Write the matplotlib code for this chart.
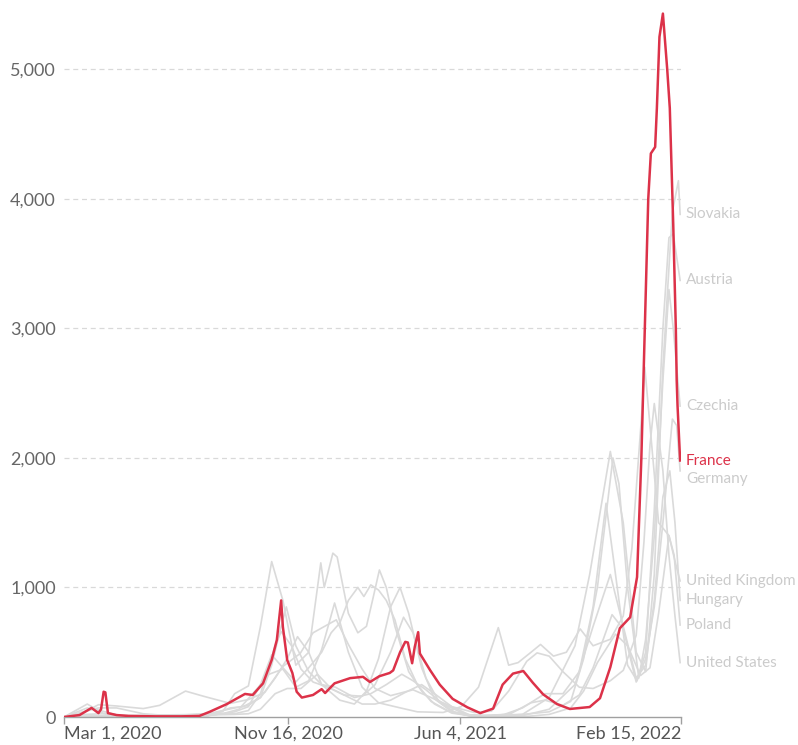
import matplotlib
matplotlib.use("Agg")
import matplotlib.pyplot as plt
import pandas as pd

# -----------------------------------------------------------------------------
# Data: daily new cases per million (7-day avg)
# -----------------------------------------------------------------------------

FRANCE_DATES = [
    "2020-03-01", "2020-03-19", "2020-04-02", "2020-04-10", "2020-04-13", "2020-04-16",
    "2020-04-18", "2020-04-21", "2020-05-01", "2020-05-15", "2020-06-15", "2020-07-15",
    "2020-08-05", "2020-08-17", "2020-09-06", "2020-09-27", "2020-10-06", "2020-10-18",
    "2020-10-28", "2020-11-03", "2020-11-08", "2020-11-10", "2020-11-15", "2020-11-21",
    "2020-11-26", "2020-12-02", "2020-12-15", "2020-12-25", "2020-12-29", "2021-01-09",
    "2021-01-27", "2021-02-11", "2021-02-19", "2021-03-02", "2021-03-14", "2021-03-18",
    "2021-03-26", "2021-04-01", "2021-04-04", "2021-04-09", "2021-04-12", "2021-04-16",
    "2021-04-18", "2021-04-30", "2021-05-11", "2021-05-26", "2021-06-12", "2021-06-27",
    "2021-07-12", "2021-07-23", "2021-08-04", "2021-08-16", "2021-08-27", "2021-09-08",
    "2021-09-24", "2021-10-09", "2021-11-01", "2021-11-13", "2021-11-25", "2021-12-06",
    "2021-12-18", "2021-12-26", "2021-12-31", "2022-01-04", "2022-01-08", "2022-01-11",
    "2022-01-16", "2022-01-18", "2022-01-21", "2022-01-25", "2022-01-30", "2022-02-02",
    "2022-02-06", "2022-02-09", "2022-02-10", "2022-02-11", "2022-02-14",
]
FRANCE_VALUES = [
    0, 15, 70, 30, 60, 195,
    190, 30, 15, 8, 5, 5,
    8, 40, 100, 178, 170, 260,
    440, 595, 900, 695, 440, 340,
    195, 150, 170, 215, 185, 260,
    300, 310, 270, 315, 340, 360,
    500, 580, 575, 415, 540, 655,
    490, 360, 250, 140, 75, 30,
    65, 250, 335, 355, 265, 175,
    100, 62, 77, 145, 385, 685,
    770, 1080, 2000, 3000, 4000, 4350,
    4400, 4700, 5250, 5430, 5000, 4700,
    3800, 3000, 2600, 2400, 1980,
]

SLOVAKIA_DATES = [
    "2020-03-01", "2020-04-01", "2020-07-01", "2020-08-15", "2020-09-15", "2020-10-01",
    "2020-10-15", "2020-10-28", "2020-11-10", "2020-11-25", "2020-12-10", "2020-12-25",
    "2021-01-05", "2021-01-15", "2021-01-25", "2021-02-05", "2021-02-12", "2021-02-20",
    "2021-03-01", "2021-03-10", "2021-03-20", "2021-04-01", "2021-04-15", "2021-05-01",
    "2021-05-20", "2021-06-15", "2021-07-15", "2021-08-15", "2021-09-15", "2021-10-15",
    "2021-11-01", "2021-11-25", "2021-12-10", "2021-12-25", "2022-01-05", "2022-01-15",
    "2022-01-25", "2022-02-05", "2022-02-12", "2022-02-14",
]
SLOVAKIA_VALUES = [
    0, 5, 3, 10, 40, 80,
    250, 480, 380, 270, 380, 500,
    650, 725, 900, 1000, 930, 1020,
    980, 900, 750, 450, 250, 120,
    50, 15, 5, 20, 150, 550,
    1100, 2050, 1500, 500, 350, 1100,
    2700, 3900, 4140, 3880,
]

AUSTRIA_DATES = [
    "2020-03-01", "2020-03-28", "2020-04-15", "2020-05-15", "2020-06-15", "2020-07-15",
    "2020-08-15", "2020-09-15", "2020-10-01", "2020-10-15", "2020-10-28", "2020-11-08",
    "2020-11-14", "2020-11-25", "2020-12-10", "2020-12-25", "2021-01-10", "2021-02-01",
    "2021-02-20", "2021-03-10", "2021-03-28", "2021-04-10", "2021-04-25", "2021-05-15",
    "2021-06-10", "2021-07-01", "2021-07-25", "2021-08-15", "2021-09-10", "2021-10-01",
    "2021-10-20", "2021-11-05", "2021-11-20", "2021-12-01", "2021-12-15", "2021-12-26",
    "2022-01-05", "2022-01-15", "2022-01-25", "2022-02-01", "2022-02-06", "2022-02-10",
    "2022-02-14",
]
AUSTRIA_VALUES = [
    0, 100, 30, 5, 5, 12,
    25, 70, 90, 150, 400, 700,
    850, 550, 350, 250, 230, 150,
    180, 250, 330, 280, 210, 100,
    20, 10, 20, 70, 180, 180,
    350, 850, 1650, 1100, 400, 280,
    500, 1600, 3000, 3700, 3730, 3550,
    3370,
]

CZECHIA_DATES = [
    "2020-03-01", "2020-03-25", "2020-04-15", "2020-05-15", "2020-06-15", "2020-07-15",
    "2020-08-15", "2020-09-01", "2020-09-15", "2020-10-01", "2020-10-15", "2020-10-28",
    "2020-11-10", "2020-11-25", "2020-12-10", "2020-12-24", "2020-12-28", "2021-01-07",
    "2021-01-12", "2021-01-25", "2021-02-05", "2021-02-15", "2021-02-22", "2021-03-02",
    "2021-03-10", "2021-03-20", "2021-04-05", "2021-04-20", "2021-05-05", "2021-05-25",
    "2021-06-15", "2021-07-15", "2021-08-15", "2021-09-15", "2021-10-10", "2021-10-25",
    "2021-11-10", "2021-11-28", "2021-12-05", "2021-12-15", "2021-12-28", "2022-01-05",
    "2022-01-15", "2022-01-25", "2022-02-01", "2022-02-06", "2022-02-10", "2022-02-14",
]
CZECHIA_VALUES = [
    0, 20, 25, 5, 10, 15,
    25, 40, 180, 240, 700, 1200,
    900, 400, 500, 1190, 1000, 1265,
    1235, 800, 650, 700, 900, 1135,
    1000, 700, 350, 200, 100, 30,
    10, 15, 20, 40, 120, 450,
    1000, 2000, 1800, 1000, 300, 600,
    1400, 2600, 3300, 3000, 2700, 2400,
]

GERMANY_DATES = [
    "2020-03-01", "2020-03-28", "2020-04-15", "2020-05-01", "2020-06-01", "2020-07-15",
    "2020-08-15", "2020-09-15", "2020-10-01", "2020-10-15", "2020-11-01", "2020-11-15",
    "2020-12-01", "2020-12-20", "2021-01-05", "2021-01-20", "2021-02-10", "2021-02-25",
    "2021-03-15", "2021-04-01", "2021-04-20", "2021-05-05", "2021-05-25", "2021-06-15",
    "2021-07-10", "2021-08-01", "2021-08-25", "2021-09-10", "2021-10-01", "2021-10-20",
    "2021-11-05", "2021-11-27", "2021-12-10", "2021-12-25", "2022-01-05", "2022-01-15",
    "2022-01-25", "2022-02-05", "2022-02-10", "2022-02-14",
]
GERMANY_VALUES = [
    0, 70, 45, 15, 5, 5,
    15, 20, 25, 60, 180, 220,
    220, 330, 220, 170, 100, 100,
    130, 190, 250, 180, 80, 15,
    8, 25, 110, 130, 90, 170,
    380, 790, 680, 270, 450, 850,
    1500, 2300, 2250, 1900,
]

UK_DATES = [
    "2020-03-01", "2020-04-10", "2020-05-01", "2020-06-01", "2020-07-01", "2020-08-01",
    "2020-09-01", "2020-09-20", "2020-10-10", "2020-10-25", "2020-11-10", "2020-11-25",
    "2020-12-10", "2020-12-25", "2021-01-09", "2021-01-25", "2021-02-10", "2021-03-01",
    "2021-03-20", "2021-04-15", "2021-05-15", "2021-06-05", "2021-06-25", "2021-07-18",
    "2021-07-30", "2021-08-10", "2021-08-25", "2021-09-05", "2021-09-20", "2021-10-05",
    "2021-10-21", "2021-11-05", "2021-11-25", "2021-12-10", "2021-12-20", "2021-12-31",
    "2022-01-04", "2022-01-10", "2022-01-20", "2022-02-01", "2022-02-10", "2022-02-14",
]
UK_VALUES = [
    0, 70, 70, 25, 10, 12,
    25, 60, 210, 330, 370, 230,
    280, 520, 880, 500, 230, 110,
    80, 40, 35, 80, 230, 690,
    400, 420, 500, 560, 470, 500,
    680, 550, 600, 780, 1300, 2300,
    2700, 2250, 1500, 1400, 1150, 1050,
]

HUNGARY_DATES = [
    "2020-03-01", "2020-04-15", "2020-06-01", "2020-08-15", "2020-09-10", "2020-09-25",
    "2020-10-15", "2020-11-01", "2020-11-15", "2020-11-27", "2020-12-10", "2020-12-25",
    "2021-01-15", "2021-02-01", "2021-02-15", "2021-03-01", "2021-03-15", "2021-03-26",
    "2021-04-05", "2021-04-20", "2021-05-05", "2021-05-25", "2021-06-15", "2021-07-15",
    "2021-08-15", "2021-09-15", "2021-10-15", "2021-11-05", "2021-11-25", "2021-12-10",
    "2021-12-25", "2022-01-05", "2022-01-15", "2022-01-25", "2022-02-02", "2022-02-08",
    "2022-02-14",
]
HUNGARY_VALUES = [
    0, 10, 2, 8, 70, 80,
    150, 300, 450, 620, 500, 250,
    130, 100, 200, 450, 850, 1000,
    800, 380, 140, 40, 8, 3,
    10, 60, 250, 700, 1100, 700,
    300, 400, 900, 1700, 1900, 1500,
    900,
]

POLAND_DATES = [
    "2020-03-01", "2020-04-15", "2020-06-10", "2020-08-15", "2020-09-15", "2020-10-01",
    "2020-10-15", "2020-11-01", "2020-11-08", "2020-11-20", "2020-12-01", "2020-12-15",
    "2021-01-01", "2021-01-20", "2021-02-10", "2021-02-25", "2021-03-15", "2021-03-30",
    "2021-04-10", "2021-04-25", "2021-05-10", "2021-05-30", "2021-06-20", "2021-07-20",
    "2021-08-20", "2021-09-15", "2021-10-10", "2021-10-25", "2021-11-10", "2021-12-01",
    "2021-12-15", "2021-12-30", "2022-01-10", "2022-01-20", "2022-02-01", "2022-02-07",
    "2022-02-14",
]
POLAND_VALUES = [
    0, 10, 15, 20, 25, 50,
    180, 550, 660, 550, 370, 270,
    230, 170, 160, 250, 500, 770,
    650, 300, 120, 30, 5, 3,
    5, 20, 70, 200, 420, 640,
    550, 320, 380, 800, 1400, 1250,
    710,
]

US_DATES = [
    "2020-03-01", "2020-03-25", "2020-04-10", "2020-05-01", "2020-06-01", "2020-06-20",
    "2020-07-20", "2020-08-10", "2020-09-10", "2020-10-01", "2020-10-20", "2020-11-10",
    "2020-11-30", "2020-12-15", "2021-01-11", "2021-01-25", "2021-02-10", "2021-02-25",
    "2021-03-15", "2021-04-10", "2021-05-01", "2021-05-25", "2021-06-20", "2021-07-10",
    "2021-07-30", "2021-08-20", "2021-09-01", "2021-09-15", "2021-10-01", "2021-10-20",
    "2021-11-05", "2021-11-25", "2021-12-10", "2021-12-25", "2022-01-03", "2022-01-10",
    "2022-01-15", "2022-01-25", "2022-02-01", "2022-02-08", "2022-02-14",
]
US_VALUES = [
    0, 40, 95, 85, 65, 90,
    200, 160, 105, 135, 190, 390,
    490, 650, 750, 560, 370, 220,
    165, 210, 150, 80, 35, 45,
    200, 430, 495, 470, 350, 230,
    220, 280, 360, 630, 1350, 2100,
    2420, 1900, 1250, 780, 420,
]

GRAY_COUNTRIES = {
    "Slovakia": (SLOVAKIA_DATES, SLOVAKIA_VALUES),
    "Austria": (AUSTRIA_DATES, AUSTRIA_VALUES),
    "Czechia": (CZECHIA_DATES, CZECHIA_VALUES),
    "Germany": (GERMANY_DATES, GERMANY_VALUES),
    "United Kingdom": (UK_DATES, UK_VALUES),
    "Hungary": (HUNGARY_DATES, HUNGARY_VALUES),
    "Poland": (POLAND_DATES, POLAND_VALUES),
    "United States": (US_DATES, US_VALUES),
}

X_TICKS = ["2020-03-01", "2020-11-16", "2021-06-04", "2022-02-15"]
Y_TICKS = [0, 1000, 2000, 3000, 4000, 5000]

# -----------------------------------------------------------------------------
# Style
# -----------------------------------------------------------------------------
plt.rcParams["font.family"] = ["Lato", "DejaVu Sans"]

RED = "#dc3249"
GRAY_LINE = "#dadada"
GRAY_LABEL = "#cbcbcb"
TEXT = "#666666"

fig = plt.figure(figsize=(7.98, 7.45), dpi=100)
ax = fig.add_axes([64 / 798, 28 / 745, 617 / 798, 706 / 745])

label_items = []
for name, (dates, values) in GRAY_COUNTRIES.items():
    d = pd.to_datetime(dates)
    ax.plot(d, values, color=GRAY_LINE, lw=1.2, zorder=2, solid_joinstyle="round")
    label_items.append((values[-1], name, GRAY_LABEL))

fr_dates = pd.to_datetime(FRANCE_DATES)
ax.plot(fr_dates, FRANCE_VALUES, color=RED, lw=1.8, zorder=5, solid_joinstyle="round")
label_items.append((FRANCE_VALUES[-1], "France", RED))

# end labels, pushed apart so they do not overlap
label_items.sort(key=lambda t: -t[0])
min_gap = 140
prev = None
end_x = pd.Timestamp(X_TICKS[-1])
for val, name, col in label_items:
    y = val if prev is None else min(val, prev - min_gap)
    prev = y
    ax.annotate(name, xy=(end_x, y), xytext=(3.5, 0), textcoords="offset points",
                ha="left", va="center", fontsize=11, color=col, annotation_clip=False)

ax.set_xlim(pd.Timestamp(X_TICKS[0]), end_x)
ax.set_ylim(0, 5450)

tick_dates = pd.to_datetime(X_TICKS)
ax.set_xticks(tick_dates)
ax.set_xticklabels([f"{d:%b} {d.day}, {d.year}" for d in tick_dates])
labels = ax.get_xticklabels()
labels[0].set_ha("left")
labels[-1].set_ha("right")

ax.set_yticks(Y_TICKS)
ax.set_yticklabels([f"{v:,}" for v in Y_TICKS])

for v in Y_TICKS[1:]:
    ax.axhline(v, color="#d9d9d9", lw=0.9, ls=(0, (4, 3)), zorder=1)

for side in ["top", "right", "left"]:
    ax.spines[side].set_visible(False)
ax.spines["bottom"].set_color("#a0a0a0")
ax.spines["bottom"].set_linewidth(1.0)

ax.tick_params(axis="x", length=5, width=1, color="#a0a0a0", labelsize=13,
               labelcolor="#555555", pad=1)
ax.tick_params(axis="y", length=0, labelsize=13, labelcolor=TEXT, pad=6)

fig.savefig("out.png", dpi=100)
